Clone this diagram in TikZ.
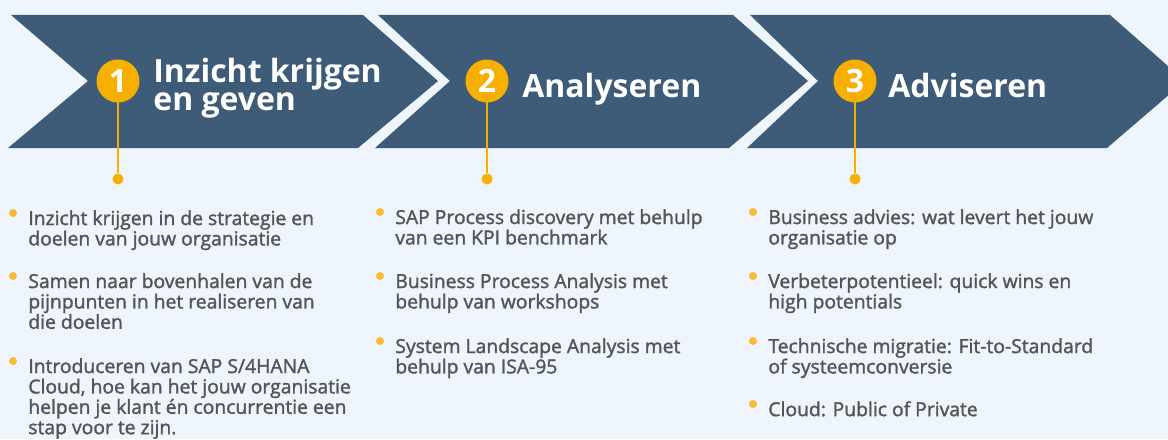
\documentclass[tikz,border=0pt]{standalone}
\usepackage{fontspec}
\setmainfont{Open Sans}
\newfontfamily\itemfont[FakeBold=1.6]{Open Sans}
\usetikzlibrary{positioning}
\definecolor{bgblue}{HTML}{EEF5FC}
\definecolor{chevblue}{HTML}{3E5C77}
\definecolor{ambr}{HTML}{F7AF00}
\definecolor{dotambr}{HTML}{FBBA34}
\definecolor{txtgray}{HTML}{555555}
\newcommand{\titlesize}{\fontsize{18.2}{16.4}\selectfont}
\newcommand{\itemsize}{\fontsize{11}{11.6}\selectfont}
\tikzset{
    chevsty/.style={fill=chevblue},
    numsty/.style={circle,fill=ambr,minimum size=0.86cm,inner sep=0pt,text=white,font=\bfseries\titlesize},
    titlesty/.style={text=white,font=\bfseries\titlesize,align=left,inner sep=0pt,anchor=base west},
    stemsty/.style={draw=ambr,line width=1.1pt},
    enddotsty/.style={circle,fill=ambr,minimum size=0.22cm,inner sep=0pt},
    bulsty/.style={circle,fill=dotambr,minimum size=0.16cm,inner sep=0pt},
    itemsty/.style={text=txtgray,font=\itemfont\itemsize,align=left,anchor=north west,inner sep=0pt},
}
% dot and text of one list item
\newcommand{\bulitem}[4]{%
  \node[bulsty] (#1) at (#2,#3) {};
  \node[itemsty] (#1t) at (#2+15,#3-3) {#4};
}

\begin{document}
\begin{tikzpicture}[x=0.02cm,y=-0.02cm]
\useasboundingbox (0,0) rectangle (1168,439);
\fill[bgblue] (0,0) rectangle (1168,439);
\clip (0,0) rectangle (1168,439);
% chevrons
\fill[chevsty] (11,15) -- (363,15) -- (438,81) -- (358,148) -- (8,148) -- (88,81) -- cycle;
\fill[chevsty] (378,15) -- (733,15) -- (808,81) -- (729,148) -- (375,148) -- (450,81) -- cycle;
\fill[chevsty] (750,15) -- (1110,15) -- (1185,81) -- (1107,148) -- (747,148) -- (818,81) -- cycle;
% steps
\node[enddotsty] (d1) at (118,179) {};
\node[enddotsty] (d2) at (487,179) {};
\node[enddotsty] (d3) at (855,179) {};
\draw[stemsty] (118,81) -- (d1);
\draw[stemsty] (487,81) -- (d2);
\draw[stemsty] (855,81) -- (d3);
\node[numsty] (n1) at (118,81) {1};
\node[numsty] (n2) at (487,81) {2};
\node[numsty] (n3) at (855,81) {3};
\node[titlesty] (t1) at (153,111) {Inzicht krijgen\\en geven};
\node[titlesty] (t2) at (522,97) {Analyseren};
\node[titlesty] (t3) at (888,97) {Adviseren};
% items
\bulitem{a1}{13}{213}{Inzicht krijgen in de strategie en\\doelen van jouw organisatie}
\bulitem{a2}{13}{276}{Samen naar bovenhalen van de\\pijnpunten in het realiseren van\\die doelen}
\bulitem{a3}{13}{361}{Introduceren van SAP S/4HANA\\Cloud, hoe kan het jouw organisatie\\helpen je klant én concurrentie een\\stap voor te zijn.}
\bulitem{b1}{380}{212}{SAP Process discovery met behulp\\van een KPI benchmark}
\bulitem{b2}{380}{276}{Business Process Analysis met\\behulp van workshops}
\bulitem{b3}{380}{341}{System Landscape Analysis met\\behulp van ISA-95}
\bulitem{c1}{753}{212}{Business advies: wat levert het jouw\\organisatie op}
\bulitem{c2}{753}{276}{Verbeterpotentieel: quick wins en\\high potentials}
\bulitem{c3}{753}{341}{Technische migratie: Fit-to-Standard\\of systeemconversie}
\bulitem{c4}{753}{404}{Cloud: Public of Private}
\end{tikzpicture}
\end{document}
